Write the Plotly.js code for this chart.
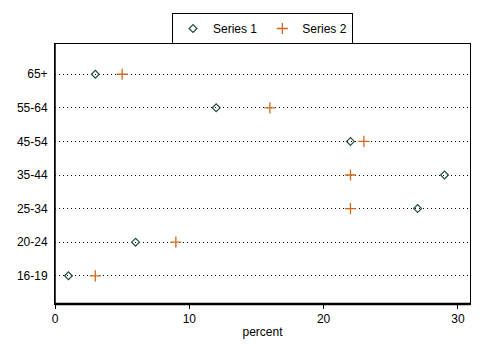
<!DOCTYPE html>
<html>
<head>
<meta charset="utf-8">
<script src="https://cdn.plot.ly/plotly-3.0.1.min.js"></script>
<style>html,body{margin:0;padding:0;background:#fff;}#chart{width:484px;height:352px;}</style>
</head>
<body>
<div id="chart"></div>
<script>
const categories = ["16-19", "20-24", "25-34", "35-44", "45-54", "55-64", "65+"];
const series1 = [1, 6, 27, 29, 22, 12, 3];
const series2 = [3, 9, 22, 22, 23, 16, 5];
const seriesNames = ["Series 1", "Series 2"];
const xTicks = [0, 10, 20, 30];

const data = [
  {
    type: "scatter", mode: "markers", name: seriesNames[0],
    x: series1, y: categories,
    marker: {symbol: "diamond-open", size: 6, color: "#1f4d3a", line: {width: 1.2, color: "#1f4d3a"}}
  },
  {
    type: "scatter", mode: "markers", name: seriesNames[1],
    x: series2, y: categories,
    marker: {symbol: "cross-thin-open", size: 8, color: "#d2691e", line: {width: 1.3, color: "#d2691e"}}
  }
];

const layout = {
  width: 484, height: 352,
  margin: {l: 55, r: 14, t: 44, b: 48},
  paper_bgcolor: "#fff", plot_bgcolor: "#fff",
  font: {family: "Liberation Sans, Arial, sans-serif", size: 12, color: "#000"},
  showlegend: true,
  legend: {
    orientation: "h", x: 0.5, xref: "paper", xanchor: "center",
    yref: "container", y: 1 - 13 / 352, yanchor: "top",
    bordercolor: "#000", borderwidth: 1, font: {size: 12},
    itemwidth: 30, tracegroupgap: 0
  },
  xaxis: {
    range: [0, 30.9], tickvals: xTicks, ticktext: xTicks.map(String),
    showgrid: false, zeroline: false,
    showline: true, linecolor: "#000", linewidth: 1, mirror: true,
    ticks: "outside", ticklen: 4, tickcolor: "#000",
    title: {text: "percent", font: {size: 12}, standoff: 2},
    automargin: false
  },
  yaxis: {
    type: "category", categoryorder: "array", categoryarray: categories,
    range: [-0.84, 6.9],
    showgrid: true, gridcolor: "#000", gridwidth: 1, griddash: "1px,3px",
    zeroline: false,
    showline: true, linecolor: "#000", linewidth: 1, mirror: true,
    ticks: "", ticklabelstandoff: 4, automargin: false
  },
  shapes: [
    {type: "line", xref: "paper", yref: "paper", x0: 0, x1: 1, y0: 0, y1: 0, line: {color: "#000", width: 2.5}},
    {type: "line", xref: "paper", yref: "paper", x0: 0, x1: 0, y0: 0, y1: 1, line: {color: "#000", width: 1.5}}
  ]
};

Plotly.newPlot("chart", data, layout, {displayModeBar: false, staticPlot: true});
</script>
</body>
</html>
